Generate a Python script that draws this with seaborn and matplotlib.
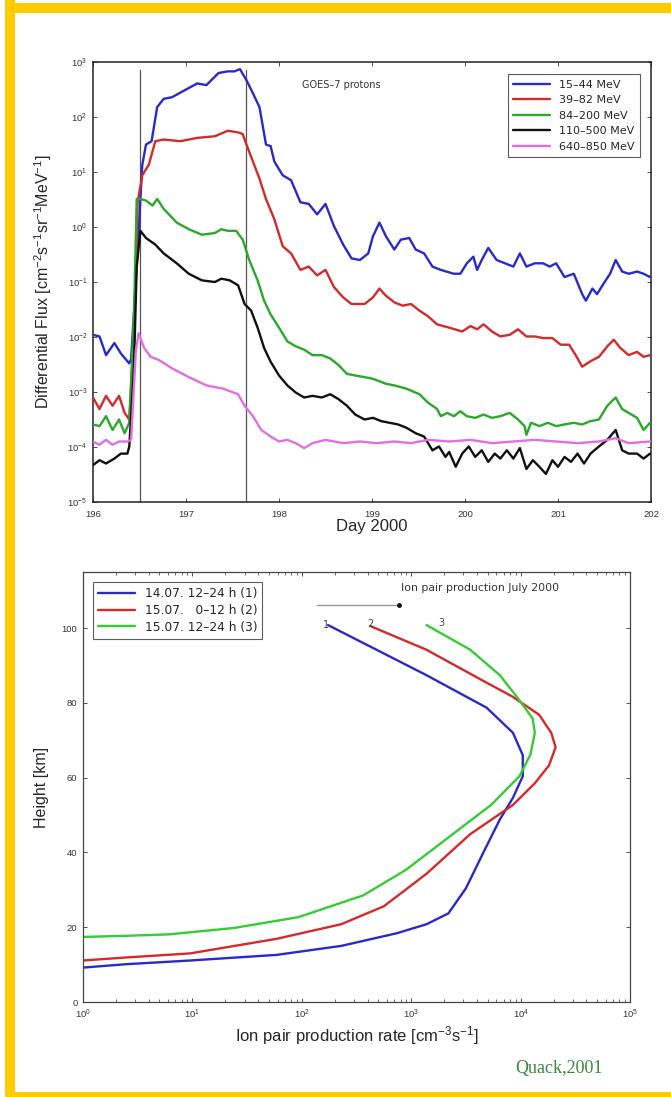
import numpy as np
import pandas as pd
import matplotlib
matplotlib.use("Agg")
import matplotlib.pyplot as plt
import seaborn as sns
from matplotlib.patches import Rectangle

sns.set_style("ticks")
plt.rcParams['font.family'] = ['Liberation Sans', 'DejaVu Sans']
plt.rcParams['mathtext.fontset'] = 'custom'
plt.rcParams['mathtext.rm'] = 'Liberation Sans'
plt.rcParams['mathtext.it'] = 'Liberation Sans:italic'

# ---------------- Top panel data: GOES-7 protons (day, log10 flux) ----------------
series_names = ["15\u201344 MeV", "39\u201382 MeV", "84\u2013200 MeV", "110\u2013500 MeV", "640\u2013850 MeV"]
series_colors = ["#2a2ac8", "#d42a2a", "#2aa82a", "#111111", "#e070e0"]

blue_day = [196.00,196.07,196.14,196.23,196.30,196.39,196.41,196.47,196.53,196.57,196.63,196.69,196.76,196.85,196.99,197.12,197.22,197.35,197.45,197.52,197.58,197.65,197.72,197.79,197.86,197.91,197.95,198.04,198.13,198.23,198.32,198.41,198.50,198.59,198.69,198.78,198.87,198.96,199.01,199.08,199.15,199.24,199.31,199.40,199.47,199.56,199.65,199.74,199.88,199.95,200.02,200.09,200.13,200.18,200.25,200.34,200.43,200.52,200.59,200.66,200.75,200.84,200.91,200.98,201.07,201.17,201.26,201.30,201.37,201.42,201.49,201.56,201.62,201.69,201.76,201.85,201.92,201.99]
blue_log = [-1.96,-1.99,-2.33,-2.11,-2.30,-2.48,-2.40,-0.72,1.13,1.50,1.56,2.18,2.33,2.36,2.49,2.61,2.58,2.80,2.83,2.83,2.87,2.67,2.43,2.18,1.50,1.47,1.19,0.94,0.85,0.45,0.42,0.23,0.42,0.02,-0.32,-0.57,-0.60,-0.48,-0.17,0.08,-0.17,-0.41,-0.23,-0.20,-0.41,-0.48,-0.72,-0.78,-0.85,-0.85,-0.66,-0.54,-0.78,-0.60,-0.38,-0.60,-0.66,-0.72,-0.48,-0.72,-0.66,-0.66,-0.72,-0.66,-0.91,-0.85,-1.22,-1.34,-1.12,-1.22,-1.03,-0.85,-0.60,-0.81,-0.85,-0.81,-0.85,-0.91]

red_day = [196.00,196.07,196.14,196.21,196.28,196.34,196.39,196.44,196.48,196.53,196.60,196.67,196.76,196.94,197.12,197.31,197.45,197.56,197.61,197.65,197.72,197.79,197.86,197.95,198.04,198.13,198.23,198.32,198.41,198.50,198.59,198.69,198.78,198.92,199.01,199.08,199.15,199.24,199.33,199.42,199.51,199.60,199.70,199.83,199.97,200.06,200.13,200.20,200.29,200.38,200.48,200.57,200.66,200.75,200.84,200.94,201.03,201.12,201.19,201.26,201.35,201.44,201.53,201.60,201.67,201.76,201.85,201.92,201.99]
red_log = [-3.10,-3.31,-3.07,-3.25,-3.07,-3.38,-3.50,-1.96,0.45,0.94,1.13,1.56,1.59,1.56,1.62,1.65,1.75,1.72,1.69,1.50,1.19,0.88,0.51,0.14,-0.35,-0.48,-0.78,-0.72,-0.88,-0.78,-1.09,-1.28,-1.40,-1.40,-1.28,-1.12,-1.25,-1.37,-1.43,-1.40,-1.52,-1.62,-1.77,-1.83,-1.90,-1.80,-1.86,-1.77,-1.90,-1.99,-1.96,-1.86,-1.99,-1.99,-2.02,-2.02,-2.14,-2.14,-2.33,-2.54,-2.44,-2.36,-2.17,-2.05,-2.20,-2.33,-2.27,-2.36,-2.33]

green_day = [196.00,196.07,196.14,196.21,196.28,196.34,196.39,196.44,196.47,196.51,196.57,196.64,196.69,196.76,196.90,197.03,197.17,197.31,197.38,197.45,197.54,197.61,197.68,197.77,197.84,197.91,198.00,198.09,198.18,198.27,198.36,198.46,198.55,198.64,198.73,198.82,198.92,199.01,199.15,199.24,199.37,199.51,199.60,199.70,199.74,199.81,199.88,199.95,200.02,200.11,200.20,200.29,200.38,200.48,200.57,200.64,200.66,200.71,200.80,200.89,200.98,201.07,201.17,201.26,201.35,201.44,201.53,201.62,201.69,201.76,201.85,201.92,201.99]
green_log = [-3.59,-3.62,-3.44,-3.69,-3.50,-3.75,-3.56,-1.65,0.51,0.51,0.48,0.39,0.51,0.33,0.08,-0.04,-0.14,-0.11,-0.04,-0.07,-0.07,-0.23,-0.60,-0.97,-1.34,-1.59,-1.83,-2.08,-2.17,-2.23,-2.33,-2.33,-2.39,-2.51,-2.67,-2.70,-2.73,-2.76,-2.85,-2.88,-2.94,-3.04,-3.19,-3.31,-3.44,-3.38,-3.44,-3.35,-3.44,-3.47,-3.41,-3.47,-3.44,-3.38,-3.50,-3.62,-3.78,-3.56,-3.62,-3.56,-3.62,-3.59,-3.56,-3.59,-3.53,-3.50,-3.25,-3.10,-3.31,-3.38,-3.47,-3.69,-3.56]

black_day = [196.00,196.07,196.14,196.23,196.30,196.37,196.39,196.44,196.47,196.51,196.57,196.67,196.76,196.90,197.03,197.17,197.31,197.38,197.47,197.56,197.63,197.70,197.77,197.84,197.91,198.00,198.09,198.18,198.27,198.36,198.46,198.55,198.64,198.73,198.82,198.92,199.01,199.10,199.19,199.28,199.37,199.47,199.56,199.65,199.72,199.79,199.83,199.90,199.97,200.04,200.11,200.18,200.25,200.32,200.38,200.45,200.52,200.59,200.66,200.73,200.80,200.87,200.94,201.00,201.07,201.14,201.21,201.28,201.35,201.44,201.53,201.62,201.69,201.76,201.85,201.92,201.99]
black_log = [-4.33,-4.24,-4.30,-4.21,-4.12,-4.12,-3.99,-2.57,-0.72,-0.07,-0.20,-0.32,-0.48,-0.66,-0.85,-0.97,-1.00,-0.94,-0.97,-1.06,-1.40,-1.52,-1.83,-2.20,-2.45,-2.70,-2.88,-3.01,-3.10,-3.07,-3.10,-3.04,-3.13,-3.25,-3.41,-3.50,-3.47,-3.53,-3.56,-3.59,-3.65,-3.75,-3.81,-4.06,-3.99,-4.18,-4.09,-4.36,-4.12,-3.99,-4.18,-4.06,-4.27,-4.12,-4.21,-4.06,-4.21,-4.02,-4.40,-4.24,-4.36,-4.49,-4.24,-4.36,-4.18,-4.27,-4.12,-4.30,-4.12,-3.99,-3.87,-3.69,-4.06,-4.12,-4.12,-4.21,-4.12]

pink_day = [196.00,196.07,196.14,196.21,196.28,196.37,196.41,196.46,196.49,196.55,196.62,196.71,196.85,197.03,197.22,197.40,197.56,197.63,197.72,197.81,197.91,198.00,198.09,198.18,198.27,198.36,198.50,198.69,198.87,199.05,199.24,199.42,199.60,199.83,200.06,200.29,200.52,200.75,200.98,201.21,201.44,201.62,201.76,201.99]
pink_log = [-3.90,-3.96,-3.87,-3.96,-3.90,-3.90,-3.87,-2.27,-1.93,-2.20,-2.36,-2.42,-2.57,-2.73,-2.88,-2.94,-3.04,-3.25,-3.44,-3.69,-3.81,-3.90,-3.87,-3.93,-4.02,-3.93,-3.87,-3.93,-3.90,-3.93,-3.90,-3.93,-3.87,-3.90,-3.87,-3.93,-3.90,-3.87,-3.90,-3.93,-3.90,-3.84,-3.93,-3.90]

event_days = [196.505, 197.64]
day_ticks = [196, 197, 198, 199, 200, 201, 202]

# ---------------- Bottom panel data: ion pair production (log10 rate, height km) ----------------
profile_names = ["14.07. 12\u201324 h (1)", "15.07.   0\u201312 h (2)", "15.07. 12\u201324 h (3)"]
profile_colors = ["#2a2ac8", "#d42a2a", "#35cc35"]
p1_log = [2.24,3.14,3.69,3.93,4.02,4.02,3.93,3.81,3.66,3.50,3.34,3.14,2.87,2.36,1.77,0.98,0.39,0.0]
p1_h = [100.8,87.4,78.7,72,66,60.4,54.6,48.8,40,30.4,23.7,20.8,18.4,15,12.6,11.1,10.1,9.2]
p2_log = [2.63,3.14,3.62,3.93,4.17,4.28,4.32,4.26,4.13,3.93,3.54,3.14,2.75,2.36,1.77,0.98,0.39,0.0]
p2_h = [100.5,94.2,86.5,81.6,76.8,72,68.1,63.3,58.5,52.7,44.9,34.3,25.6,20.8,16.9,13,11.9,11.1]
p3_log = [3.14,3.54,3.81,3.99,4.11,4.13,4.09,3.99,3.73,3.34,2.95,2.56,1.97,1.38,0.79,0.39,0.0]
p3_h = [100.8,94.2,87.4,80.7,75.8,72,66.2,60.4,52.7,44,35.3,28.5,22.7,19.8,18.1,17.7,17.4]
profile_tags = ["1", "2", "3"]
tag_log = [2.22, 2.63, 3.28]
tag_h = [100.8, 101.2, 101.4]
arrow_log = [2.14, 2.89]
arrow_h = [106.3, 106.3]
height_ticks = [0, 20, 40, 60, 80, 100]

W, H = 671, 1097
fig = plt.figure(figsize=(W / 100, H / 100), dpi=100)
fig.patch.set_facecolor("white")

def fx(px):
    return px / W

def fy(py):
    return 1 - py / H

small_font = ["DejaVu Sans"]

# --- top axes ---
ax1 = fig.add_axes([fx(93), fy(502), fx(651) - fx(93), fy(62) - fy(502)])
top_frames = []
for name, d, lg in zip(series_names,
                       [blue_day, red_day, green_day, black_day, pink_day],
                       [blue_log, red_log, green_log, black_log, pink_log]):
    top_frames.append(pd.DataFrame({"day": d, "flux": np.power(10.0, lg), "band": name}))
top_df = pd.concat(top_frames, ignore_index=True)

for xv in event_days:
    ax1.plot([xv, xv], [1e-5, 10 ** 2.86], color="#555555", lw=0.9, zorder=1)

sns.lineplot(data=top_df, x="day", y="flux", hue="band", palette=series_colors,
             hue_order=series_names, estimator=None, sort=False, lw=1.7, ax=ax1, zorder=3)
ax1.set_yscale("log")
ax1.set_xlim(196, 202)
ax1.set_ylim(1e-5, 1e3)
ax1.set_xticks(day_ticks)
ax1.set_xticklabels([str(t) for t in day_ticks])
ax1.set_yticks([10.0 ** k for k in range(-5, 4)])
ax1.yaxis.set_minor_locator(matplotlib.ticker.NullLocator())
ax1.tick_params(axis="both", which="both", direction="in", top=True, right=True,
                labelsize=6.8, length=3, width=0.6, colors="#333333")
ax1.tick_params(axis="x", pad=6)
ax1.tick_params(axis="y", pad=4)
ax1.set_xlabel("Day 2000", fontsize=12, labelpad=0)
ax1.set_ylabel(r"Differential Flux [cm$^{-2}$s$^{-1}$sr$^{-1}$MeV$^{-1}$]", fontsize=11.5, labelpad=10)
for s in ax1.spines.values():
    s.set_linewidth(1.1)
    s.set_color("#222222")
ax1.text(198.25, 10 ** 2.58, "GOES\u20137 protons", fontsize=7, color="#333333", va="center",
         ha="left", family=small_font)
leg1 = ax1.legend(loc="upper right", prop={"family": small_font, "size": 8}, frameon=True,
                  fancybox=False, edgecolor="#333333", handlelength=3.3, borderpad=0.5,
                  labelspacing=0.5, bbox_to_anchor=(0.99, 0.985))
leg1.get_frame().set_linewidth(0.8)
for h in leg1.get_lines():
    h.set_linewidth(1.7)

# --- bottom axes ---
ax2 = fig.add_axes([fx(83), fy(1002), fx(630) - fx(83), fy(572) - fy(1002)])
bot_frames = []
for name, lg, hh in zip(profile_names, [p1_log, p2_log, p3_log], [p1_h, p2_h, p3_h]):
    bot_frames.append(pd.DataFrame({"rate": np.power(10.0, lg), "height": hh, "period": name}))
bot_df = pd.concat(bot_frames, ignore_index=True)
sns.lineplot(data=bot_df, x="rate", y="height", hue="period", palette=profile_colors,
             hue_order=profile_names, estimator=None, sort=False, lw=1.7, ax=ax2)
ax2.set_xscale("log")
ax2.set_xlim(1, 1e5)
ax2.set_ylim(0, 115)
ax2.set_yticks(height_ticks)
ax2.tick_params(axis="both", which="both", direction="in", top=True, right=True,
                labelsize=6.8, colors="#333333", pad=4)
ax2.tick_params(which="major", length=3, width=0.6)
ax2.tick_params(which="minor", length=2, width=0.5)
ax2.set_xlabel(r"Ion pair production rate [cm$^{-3}$s$^{-1}$]", fontsize=12, labelpad=2)
ax2.set_ylabel("Height [km]", fontsize=11.5, labelpad=9)
for s in ax2.spines.values():
    s.set_linewidth(0.9)
    s.set_color("#444444")
ax2.plot(np.power(10.0, arrow_log), arrow_h, color="#999999", lw=1.0)
ax2.plot([10 ** arrow_log[1]], [arrow_h[1]], marker="o", ms=2.5, color="#111111")
ax2.text(10 ** 2.91, 110.8, "Ion pair production July 2000", fontsize=7.8, color="#333333",
         ha="left", va="center", family=small_font)
for t, lg, hh in zip(profile_tags, tag_log, tag_h):
    ax2.text(10 ** lg, hh, t, fontsize=7, color="#444444", ha="center", va="center",
             family=small_font)
leg2 = ax2.legend(loc="upper left", prop={"family": small_font, "size": 8.8}, frameon=True,
                  fancybox=False, edgecolor="#333333", handlelength=3.0, borderpad=0.4,
                  labelspacing=0.3, bbox_to_anchor=(0.008, 0.99))
leg2.get_frame().set_linewidth(0.8)
for h in leg2.get_lines():
    h.set_linewidth(1.7)

fig.text(fx(559), fy(1068), "Quack,2001", fontsize=13, color="#3a8a3a",
         family=["Liberation Serif", "DejaVu Serif"], ha="center", va="center")

# --- yellow frame ---
gold = "#FFCC00"
fig.patches.append(Rectangle((fx(5), 0), fx(10), 1, transform=fig.transFigure,
                             facecolor=gold, edgecolor="none", zorder=10))
fig.patches.append(Rectangle((fx(5), fy(13)), 1, fy(3) - fy(13), transform=fig.transFigure,
                             facecolor=gold, edgecolor="none", zorder=10))
fig.patches.append(Rectangle((fx(5), 0), 1, fy(1092), transform=fig.transFigure,
                             facecolor=gold, edgecolor="none", zorder=10))

fig.savefig("out.png", dpi=100, facecolor="white")
